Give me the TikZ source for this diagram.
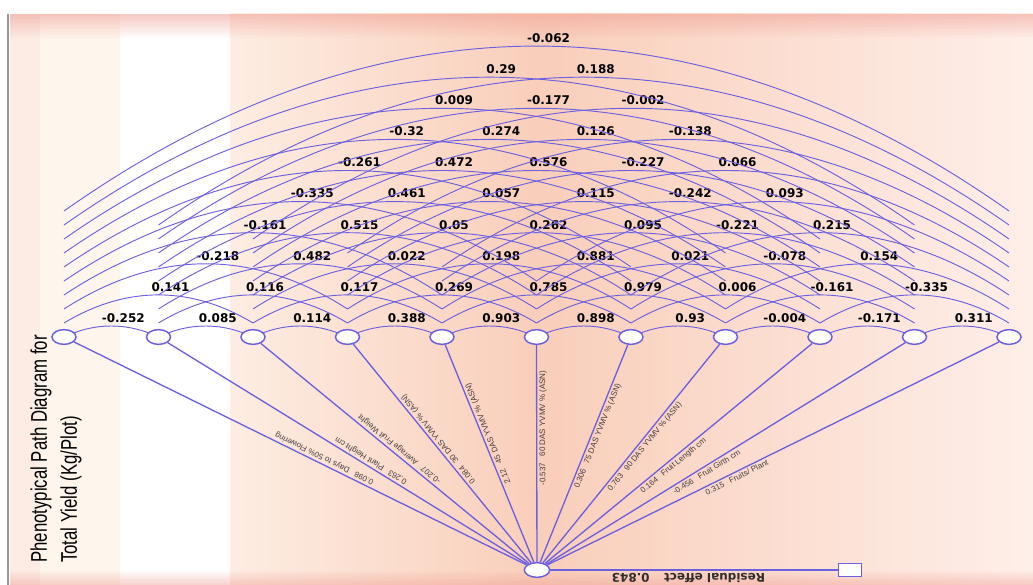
\documentclass[tikz,border=0pt]{standalone}
\usepackage{graphicx}
\usepackage{fontspec}
\setmainfont{Liberation Sans}
\newfontfamily\corrfont{DejaVu Sans}
\usetikzlibrary{calc,shapes.geometric}

\definecolor{pathblue}{RGB}{108,96,224}
\definecolor{rayink}{RGB}{70,62,62}
\definecolor{resink}{RGB}{50,45,45}
\definecolor{edgepink}{RGB}{252,236,228}
\definecolor{cream}{RGB}{254,246,236}
\definecolor{peachlt}{RGB}{253,237,226}
\definecolor{peach}{RGB}{249,206,186}
\definecolor{peachrt}{RGB}{254,239,233}
\definecolor{bandpink}{RGB}{240,160,150}
\definecolor{framegray}{RGB}{150,150,150}

\pgfdeclarelayer{panel}
\pgfdeclarelayer{arcs}
\pgfsetlayers{panel,arcs,main}

\tikzset{every picture/.style={line width=0.75pt}}

\begin{document}
\begin{tikzpicture}[x=0.75pt,y=0.75pt,yscale=-1,xscale=1,
	var/.style={ellipse, draw=pathblue, line width=1.1pt, fill=white, minimum width=18pt, minimum height=11pt, inner sep=0pt},
	resbox/.style={rectangle, draw=pathblue, line width=1.1pt, fill=white, minimum width=17pt, minimum height=10pt, inner sep=0pt},
	corrarc/.style={draw=pathblue, line width=0.7pt},
	ray/.style={draw=pathblue, line width=1pt},
	corr/.style={font=\corrfont\bfseries\fontsize{9}{10}\selectfont, inner sep=0pt},
	raylab/.style={pos=0.34, anchor=north west, inner sep=1.5pt, font=\fontsize{6}{7}\selectfont, text=rayink},
	ttl/.style={font=\fontsize{17}{20}\selectfont, inner sep=0pt, rotate=90, anchor=west}]
	\useasboundingbox (0,0) rectangle (1033,585);

	%Background panel
	\begin{pgfonlayer}{panel}
	\fill [white] (0,0) rectangle (1033,585);
	\fill [edgepink] (10,14) rectangle (40,585);
	\fill [cream] (40,14) rectangle (120,585);
	\shade [left color=peachlt, right color=peach] (230,14) rectangle (540,585);
	\shade [left color=peach, right color=peachrt] (540,14) rectangle (1033,585);
	\foreach \t in {0,...,11} {
		\fill [bandpink, opacity={0.55*(1-\t/12)}] (10,{14+2*\t}) rectangle (1033,{16+2*\t});
		\fill [bandpink, opacity={0.45*(1-\t/12)}] (10,{585-1.2*\t}) rectangle (1033,{583.8-1.2*\t});
	}
	\draw [framegray, line width=1.5pt] (8,14) -- (8,585);
	\end{pgfonlayer}

	%Variables
	\foreach \i in {1,...,11}
		\node[var] (v\i) at ({64+94.5*(\i-1)},337) {};
	\node[var, minimum width=19pt] (root) at (537,570) {};
	\node[resbox] (res) at (850,570) {};

	%Correlation arcs
	\begin{pgfonlayer}{arcs}
	\foreach \k/\row in {
		1/{-0.252,0.085,0.114,0.388,0.903,0.898,0.93,-0.004,-0.171,0.311},
		2/{0.141,0.116,0.117,0.269,0.785,0.979,0.006,-0.161,-0.335},
		3/{-0.218,0.482,0.022,0.198,0.881,0.021,-0.078,0.154},
		4/{-0.161,0.515,0.05,0.262,0.095,-0.221,0.215},
		5/{-0.335,0.461,0.057,0.115,-0.242,0.093},
		6/{-0.261,0.472,0.576,-0.227,0.066},
		7/{-0.32,0.274,0.126,-0.138},
		8/{0.009,-0.177,-0.002},
		9/{0.29,0.188},
		10/{-0.062}} {
		\foreach \r [count=\i] in \row {
			\pgfmathtruncatemacro\j{\i+\k}
			\pgfmathsetmacro\dy{-14*(\k-1)}
			\pgfmathsetmacro\ys{337+\dy}
			\pgfmathsetmacro\ap{326-31.1*(\k-1)}
			\pgfmathsetmacro\yc{\ys-(\ys-\ap)/0.75}
			\pgfmathsetmacro\ca{64+94.5*(\i-1)+0.33*94.5*\k}
			\pgfmathsetmacro\cb{64+94.5*(\j-1)-0.33*94.5*\k}
			\draw[corrarc] ($(v\i)+(0,\dy)$) .. controls (\ca,\yc) and (\cb,\yc) .. ($(v\j)+(0,\dy)$);
			\node[corr] (r\i-\j) at ({64+94.5*(\i-1)+47.25*\k+12},{\ap-8}) {\r};
		}
	}
	\end{pgfonlayer}

	%Direct paths
	\foreach \i/\lab in {
		1/{0.098\hspace{0.8em}Days to 50\% Flowering},
		2/{0.263\hspace{0.8em}Plant Height cm},
		3/{-0.207\hspace{0.8em}Average Fruit Weight},
		4/{0.084\hspace{0.8em}30 DAS YVMV \% (ASN)},
		5/{2.12\hspace{0.8em}45 DAS YVMV \% (ASN)},
		6/{-0.537\hspace{0.8em}60 DAS YVMV \% (ASN)},
		7/{0.306\hspace{0.8em}75 DAS YVMV \% (ASN)},
		8/{0.763\hspace{0.8em}90 DAS YVMV \% (ASN)},
		9/{0.164\hspace{0.8em}Fruit Length cm},
		10/{-0.456\hspace{0.8em}Fruit Girth cm},
		11/{0.315\hspace{0.8em}Fruits/ Plant}} {
		\pgfmathsetmacro\ang{atan2(233,64+94.5*(\i-1)-537)}
		\draw[ray] (root) -- node[raylab, rotate=\ang] {\lab} (v\i);
	}

	%Residual
	\draw[ray] (res) -- node[corr, pos=0.52, rotate=180, anchor=south, inner sep=2pt, text=resink] {Residual effect\hspace{1.2em}0.843} (root);

	% Text Node
	\node[ttl] (ttl1) at (41,563) {\scalebox{0.74}[1]{Phenotypical Path Diagram for}};
	% Text Node
	\node[ttl] (ttl2) at (71,563) {\scalebox{0.74}[1]{Total Yield (Kg/Plot)}};

\end{tikzpicture}
\end{document}
